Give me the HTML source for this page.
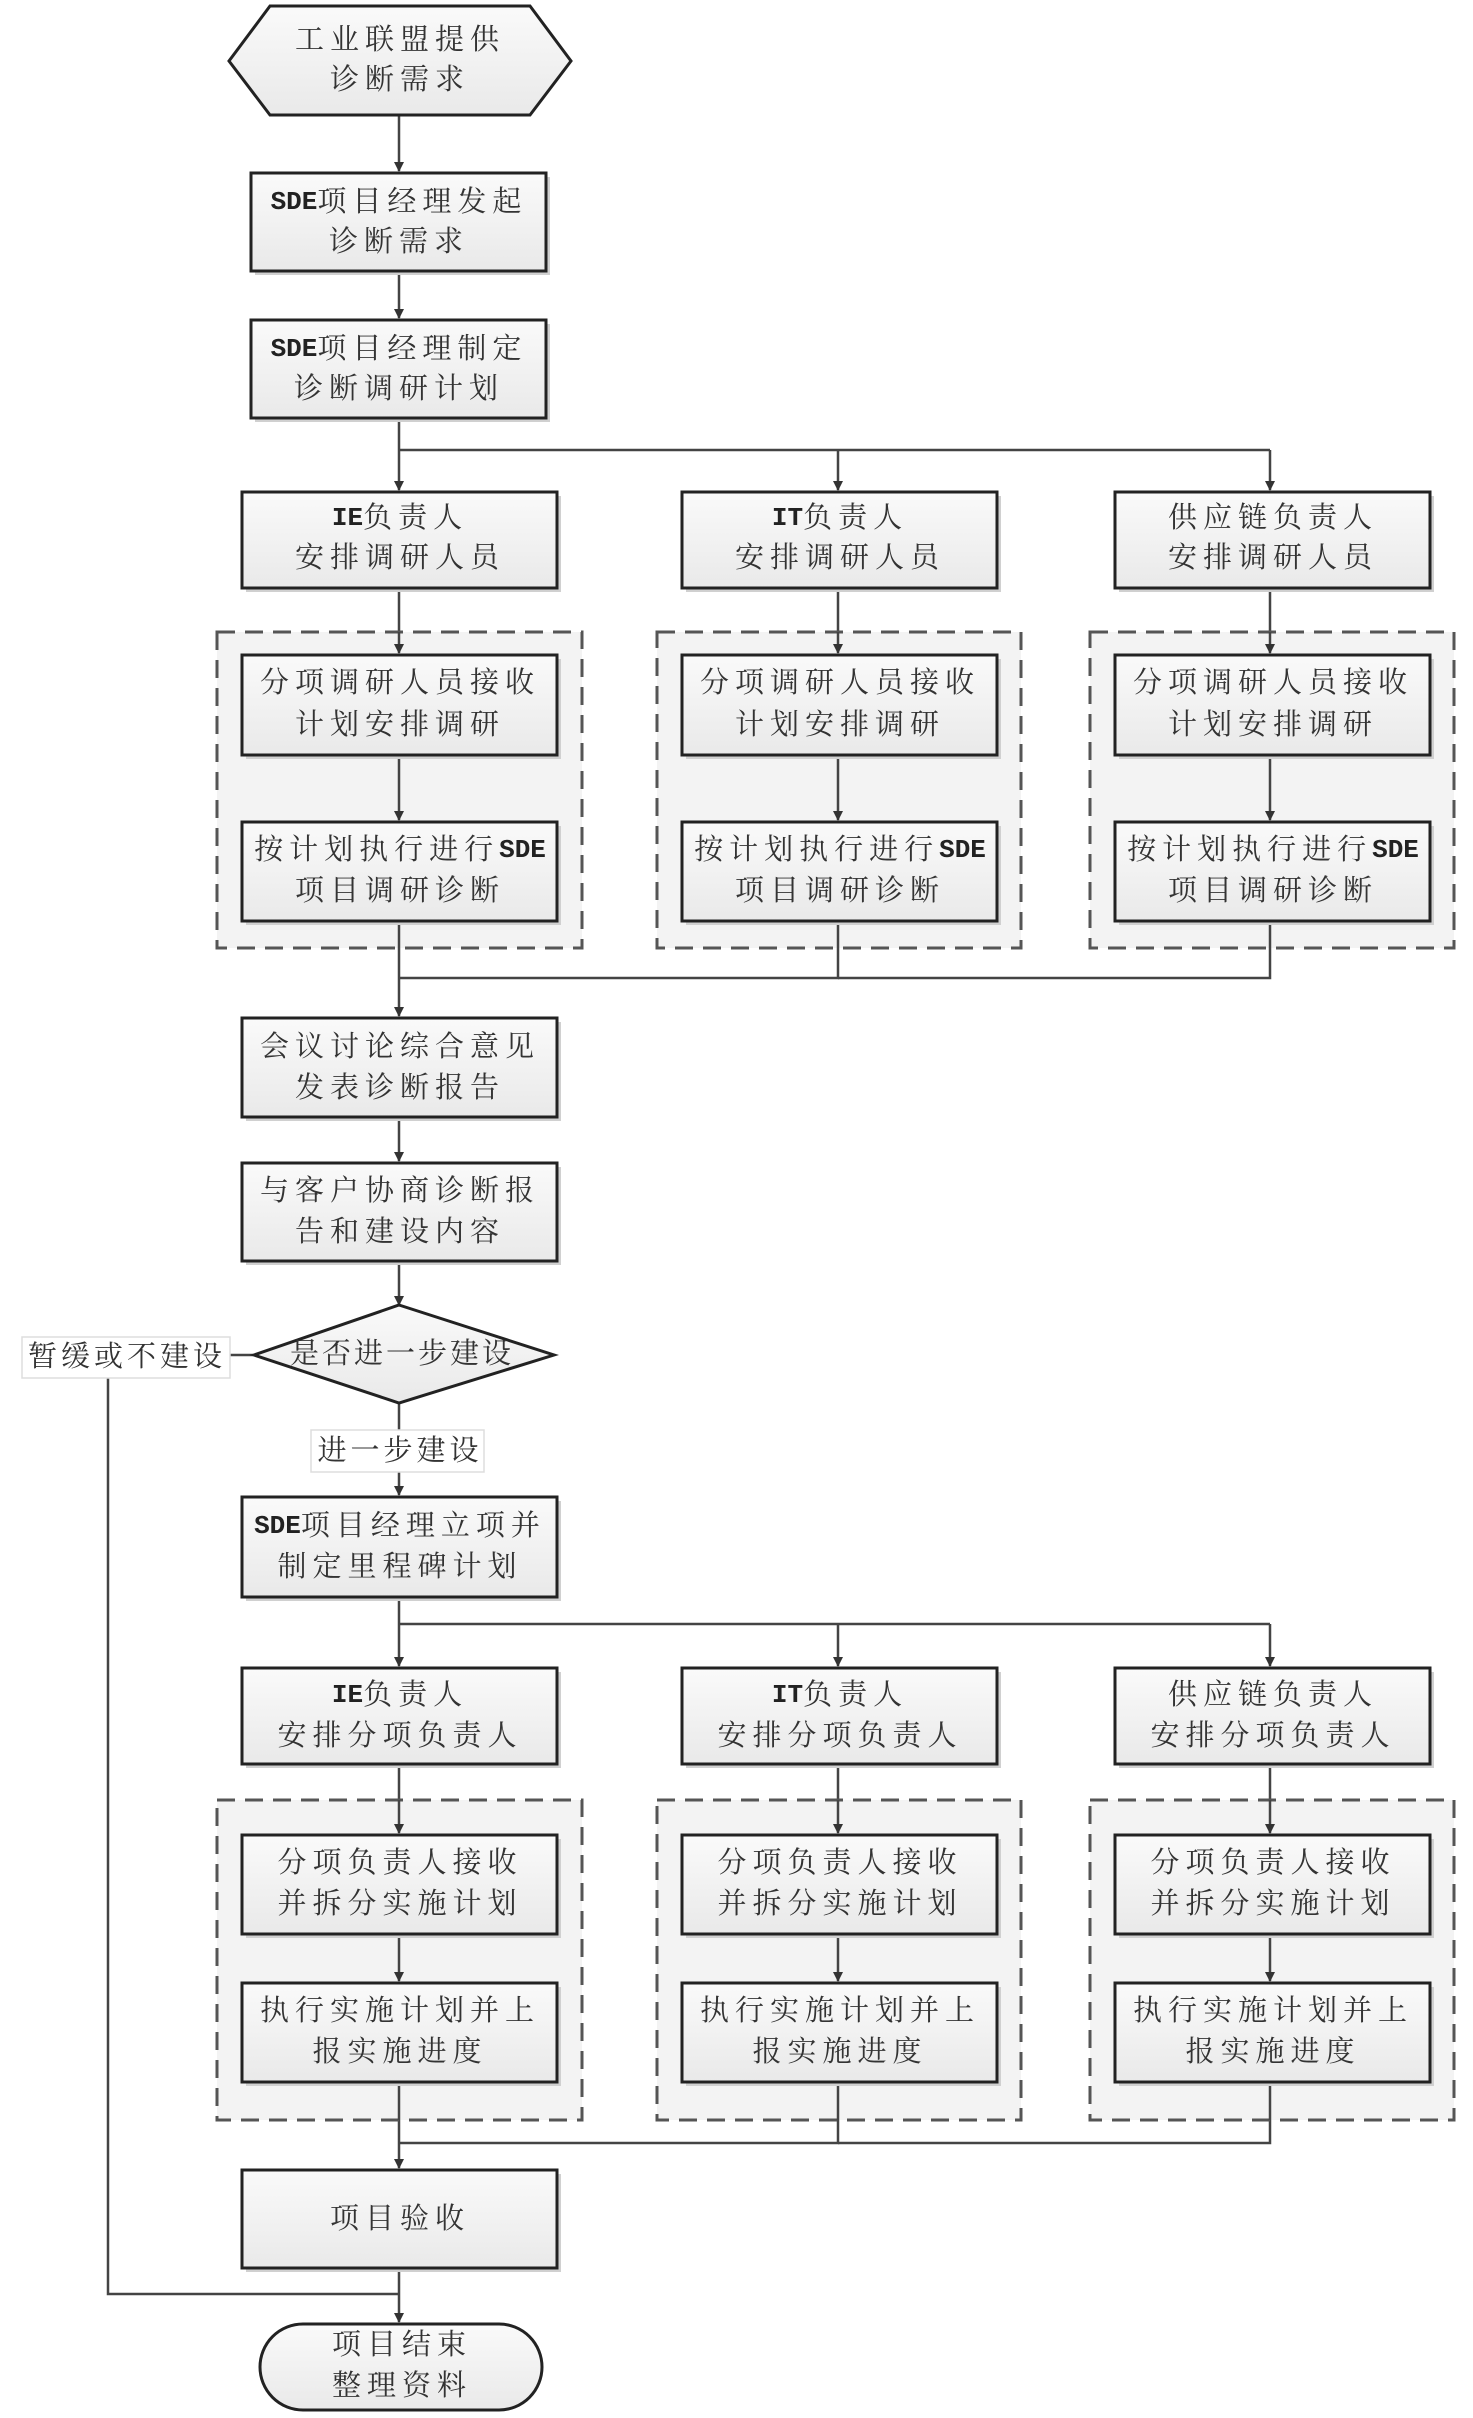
<!DOCTYPE html>
<html><head><meta charset="utf-8"><style>
html,body{margin:0;padding:0;background:#fff;}
svg{display:block;}
text{font-family:"Liberation Serif","Noto Serif CJK SC","Noto Sans CJK SC",serif;font-size:29px;fill:#333;letter-spacing:6px;text-anchor:middle;dominant-baseline:central;}
tspan.l{font-family:"Liberation Mono",monospace;font-weight:bold;letter-spacing:0;font-size:26px;fill:#222;}
</style></head><body>
<svg width="1473" height="2418" viewBox="0 0 1473 2418" xmlns="http://www.w3.org/2000/svg">
<defs>
<marker id="a" markerWidth="10" markerHeight="10" refX="9" refY="5" orient="auto" markerUnits="userSpaceOnUse" viewBox="0 0 10 10"><path d="M0,0 L10,5 L0,10z" fill="#333"/></marker>
<linearGradient id="g" x1="0" y1="0" x2="0" y2="1"><stop offset="0" stop-color="#fafafa"/><stop offset="1" stop-color="#e9e9e9"/></linearGradient>
</defs>
<g stroke="#444" stroke-width="2.5" fill="none">
<line x1="399" y1="116" x2="399" y2="171" marker-end="url(#a)"/>
<line x1="399" y1="271" x2="399" y2="318" marker-end="url(#a)"/>
<line x1="399" y1="418" x2="399" y2="490" marker-end="url(#a)"/>
<polyline points="399,450 1270,450"/>
<line x1="838" y1="450" x2="838" y2="490" marker-end="url(#a)"/>
<line x1="1270" y1="450" x2="1270" y2="490" marker-end="url(#a)"/>
<line x1="399" y1="588" x2="399" y2="653" marker-end="url(#a)"/>
<line x1="838" y1="588" x2="838" y2="653" marker-end="url(#a)"/>
<line x1="1270" y1="588" x2="1270" y2="653" marker-end="url(#a)"/>
<line x1="399" y1="921" x2="399" y2="1016" marker-end="url(#a)"/>
<polyline points="838,921 838,978 399,978"/>
<polyline points="1270,921 1270,978 838,978"/>
<line x1="399" y1="1117" x2="399" y2="1161" marker-end="url(#a)"/>
<line x1="399" y1="1261" x2="399" y2="1305" marker-end="url(#a)"/>
<line x1="399" y1="1403" x2="399" y2="1495" marker-end="url(#a)"/>
<line x1="254" y1="1355" x2="230" y2="1355"/>
<polyline points="108,1378 108,2294 399,2294"/>
<line x1="399" y1="1597" x2="399" y2="1666" marker-end="url(#a)"/>
<polyline points="399,1624 1270,1624"/>
<line x1="838" y1="1624" x2="838" y2="1666" marker-end="url(#a)"/>
<line x1="1270" y1="1624" x2="1270" y2="1666" marker-end="url(#a)"/>
<line x1="399" y1="1764" x2="399" y2="1833" marker-end="url(#a)"/>
<line x1="838" y1="1764" x2="838" y2="1833" marker-end="url(#a)"/>
<line x1="1270" y1="1764" x2="1270" y2="1833" marker-end="url(#a)"/>
<line x1="399" y1="2082" x2="399" y2="2168" marker-end="url(#a)"/>
<polyline points="838,2082 838,2143 399,2143"/>
<polyline points="1270,2082 1270,2143 838,2143"/>
<line x1="399" y1="2268" x2="399" y2="2322" marker-end="url(#a)"/>
</g>
<g fill="#f3f3f3" stroke="#555" stroke-width="3" stroke-dasharray="18,10">
<rect x="217" y="632" width="365" height="316"/>
<rect x="657" y="632" width="364" height="316"/>
<rect x="1090" y="632" width="364" height="316"/>
<rect x="217" y="1800" width="365" height="320"/>
<rect x="657" y="1800" width="364" height="320"/>
<rect x="1090" y="1800" width="364" height="320"/>
</g>
<g stroke="#444" stroke-width="2.5">
<line x1="399" y1="632" x2="399" y2="653" marker-end="url(#a)"/>
<line x1="838" y1="632" x2="838" y2="653" marker-end="url(#a)"/>
<line x1="1270" y1="632" x2="1270" y2="653" marker-end="url(#a)"/>
<line x1="399" y1="755" x2="399" y2="820" marker-end="url(#a)"/>
<line x1="838" y1="755" x2="838" y2="820" marker-end="url(#a)"/>
<line x1="1270" y1="755" x2="1270" y2="820" marker-end="url(#a)"/>
<line x1="399" y1="921" x2="399" y2="948"/>
<line x1="838" y1="921" x2="838" y2="948"/>
<line x1="1270" y1="921" x2="1270" y2="948"/>
<line x1="399" y1="1800" x2="399" y2="1833" marker-end="url(#a)"/>
<line x1="838" y1="1800" x2="838" y2="1833" marker-end="url(#a)"/>
<line x1="1270" y1="1800" x2="1270" y2="1833" marker-end="url(#a)"/>
<line x1="399" y1="1934" x2="399" y2="1981" marker-end="url(#a)"/>
<line x1="838" y1="1934" x2="838" y2="1981" marker-end="url(#a)"/>
<line x1="1270" y1="1934" x2="1270" y2="1981" marker-end="url(#a)"/>
<line x1="399" y1="2082" x2="399" y2="2120"/>
<line x1="838" y1="2082" x2="838" y2="2120"/>
<line x1="1270" y1="2082" x2="1270" y2="2120"/>
</g>
<g fill="#d0d0d0">
<rect x="255" y="177" width="295" height="98"/>
<rect x="255" y="324" width="295" height="98"/>
<rect x="246" y="496" width="315" height="96"/><rect x="686" y="496" width="315" height="96"/><rect x="1119" y="496" width="315" height="96"/>
<rect x="246" y="659" width="315" height="100"/><rect x="686" y="659" width="315" height="100"/><rect x="1119" y="659" width="315" height="100"/>
<rect x="246" y="826" width="315" height="99"/><rect x="686" y="826" width="315" height="99"/><rect x="1119" y="826" width="315" height="99"/>
<rect x="246" y="1022" width="315" height="99"/>
<rect x="246" y="1167" width="315" height="98"/>
<rect x="246" y="1501" width="315" height="100"/>
<rect x="246" y="1672" width="315" height="96"/><rect x="686" y="1672" width="315" height="96"/><rect x="1119" y="1672" width="315" height="96"/>
<rect x="246" y="1839" width="315" height="99"/><rect x="686" y="1839" width="315" height="99"/><rect x="1119" y="1839" width="315" height="99"/>
<rect x="246" y="1987" width="315" height="99"/><rect x="686" y="1987" width="315" height="99"/><rect x="1119" y="1987" width="315" height="99"/>
<rect x="246" y="2174" width="315" height="98"/>
</g>
<g fill="url(#g)" stroke="#222" stroke-width="3">
<polygon points="270,6 530,6 571,61 530,115 270,115 229,61"/>
<rect x="251" y="173" width="295" height="98"/>
<rect x="251" y="320" width="295" height="98"/>
<rect x="242" y="492" width="315" height="96"/><rect x="682" y="492" width="315" height="96"/><rect x="1115" y="492" width="315" height="96"/>
<rect x="242" y="655" width="315" height="100"/><rect x="682" y="655" width="315" height="100"/><rect x="1115" y="655" width="315" height="100"/>
<rect x="242" y="822" width="315" height="99"/><rect x="682" y="822" width="315" height="99"/><rect x="1115" y="822" width="315" height="99"/>
<rect x="242" y="1018" width="315" height="99"/>
<rect x="242" y="1163" width="315" height="98"/>
<polygon points="399,1305 554,1355 399,1403 254,1355"/>
<rect x="242" y="1497" width="315" height="100"/>
<rect x="242" y="1668" width="315" height="96"/><rect x="682" y="1668" width="315" height="96"/><rect x="1115" y="1668" width="315" height="96"/>
<rect x="242" y="1835" width="315" height="99"/><rect x="682" y="1835" width="315" height="99"/><rect x="1115" y="1835" width="315" height="99"/>
<rect x="242" y="1983" width="315" height="99"/><rect x="682" y="1983" width="315" height="99"/><rect x="1115" y="1983" width="315" height="99"/>
<rect x="242" y="2170" width="315" height="98"/>
<rect x="260" y="2324" width="282" height="86" rx="43"/>
</g>
<g fill="#fff" stroke="#ddd" stroke-width="1.5">
<rect x="22" y="1337" width="208" height="41"/>
<rect x="311" y="1430" width="173" height="42"/>
</g>
<text x="400" y="40">工业联盟提供</text><text x="400" y="80">诊断需求</text>
<text x="399" y="202"><tspan class="l">SDE</tspan>项目经理发起</text><text x="399" y="242">诊断需求</text>
<text x="399" y="349"><tspan class="l">SDE</tspan>项目经理制定</text><text x="399" y="389">诊断调研计划</text>
<text x="400" y="518"><tspan class="l">IE</tspan>负责人</text><text x="400" y="558">安排调研人员</text>
<text x="840" y="518"><tspan class="l">IT</tspan>负责人</text><text x="840" y="558">安排调研人员</text>
<text x="1273" y="518">供应链负责人</text><text x="1273" y="558">安排调研人员</text>
<text x="400" y="683">分项调研人员接收</text><text x="400" y="725">计划安排调研</text>
<text x="840" y="683">分项调研人员接收</text><text x="840" y="725">计划安排调研</text>
<text x="1273" y="683">分项调研人员接收</text><text x="1273" y="725">计划安排调研</text>
<text x="400" y="850">按计划执行进行<tspan class="l">SDE</tspan></text><text x="400" y="891">项目调研诊断</text>
<text x="840" y="850">按计划执行进行<tspan class="l">SDE</tspan></text><text x="840" y="891">项目调研诊断</text>
<text x="1273" y="850">按计划执行进行<tspan class="l">SDE</tspan></text><text x="1273" y="891">项目调研诊断</text>
<text x="400" y="1047">会议讨论综合意见</text><text x="400" y="1088">发表诊断报告</text>
<text x="400" y="1191">与客户协商诊断报</text><text x="400" y="1232">告和建设内容</text>
<text x="402" y="1354" style="letter-spacing:3px">是否进一步建设</text>
<text x="127" y="1357" style="letter-spacing:4px">暂缓或不建设</text>
<text x="400" y="1451" style="letter-spacing:4px">进一步建设</text>
<text x="400" y="1526"><tspan class="l">SDE</tspan>项目经理立项并</text><text x="400" y="1567">制定里程碑计划</text>
<text x="400" y="1695"><tspan class="l">IE</tspan>负责人</text><text x="400" y="1736">安排分项负责人</text>
<text x="840" y="1695"><tspan class="l">IT</tspan>负责人</text><text x="840" y="1736">安排分项负责人</text>
<text x="1273" y="1695">供应链负责人</text><text x="1273" y="1736">安排分项负责人</text>
<text x="400" y="1863">分项负责人接收</text><text x="400" y="1904">并拆分实施计划</text>
<text x="840" y="1863">分项负责人接收</text><text x="840" y="1904">并拆分实施计划</text>
<text x="1273" y="1863">分项负责人接收</text><text x="1273" y="1904">并拆分实施计划</text>
<text x="400" y="2011">执行实施计划并上</text><text x="400" y="2052">报实施进度</text>
<text x="840" y="2011">执行实施计划并上</text><text x="840" y="2052">报实施进度</text>
<text x="1273" y="2011">执行实施计划并上</text><text x="1273" y="2052">报实施进度</text>
<text x="400" y="2219">项目验收</text>
<text x="402" y="2345">项目结束</text><text x="402" y="2386">整理资料</text>
</svg>
</body></html>
